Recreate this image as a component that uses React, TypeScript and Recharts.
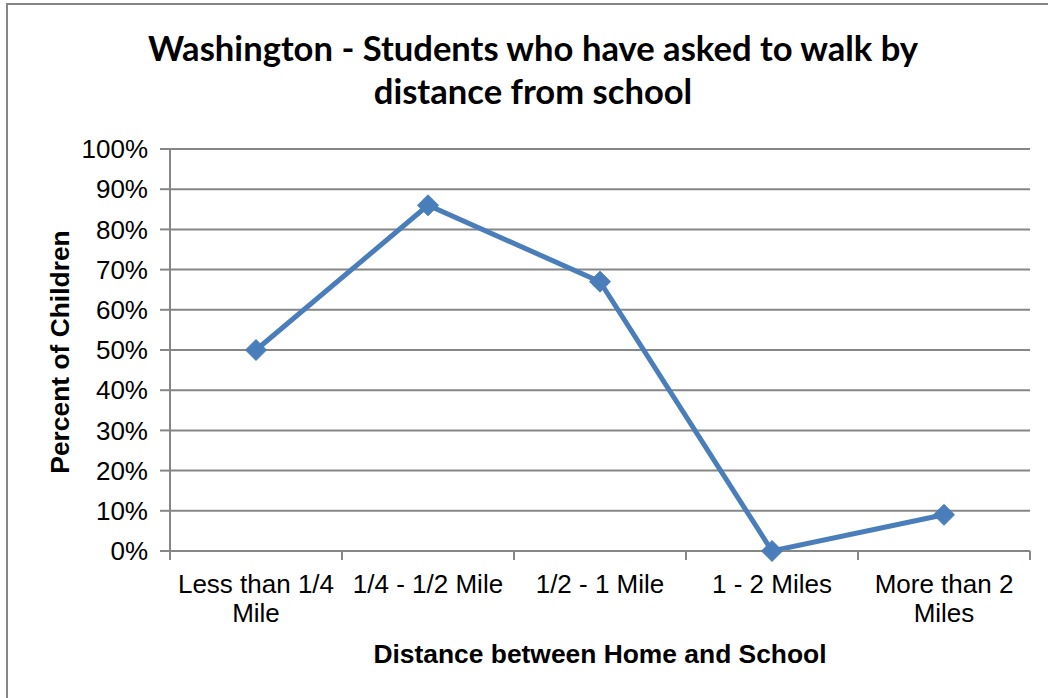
import React from 'react';
import { LineChart, Line, XAxis, YAxis, CartesianGrid } from 'recharts';

// Data
const categories = ['Less than 1/4 Mile', '1/4 - 1/2 Mile', '1/2 - 1 Mile', '1 - 2 Miles', 'More than 2 Miles'];
const percentAsked = [0.5, 0.86, 0.67, 0, 0.09];
const yTicks = [0, 0.1, 0.2, 0.3, 0.4, 0.5, 0.6, 0.7, 0.8, 0.9, 1];

const data = categories.map((name, i) => ({ name, value: percentAsked[i] }));

const W = 1048;
const H = 698;
const PLOT_LEFT = 170;
const PLOT_RIGHT = 18;
const PLOT_TOP = 149;
const PLOT_BOTTOM = 147;
const Y_AXIS_W = 100;
const X_AXIS_H = 100;
const BAND = (W - PLOT_LEFT - PLOT_RIGHT) / categories.length;

const GRID = '#868686';
const BLUE = '#4a7ebb';
const FONT = '"Liberation Sans", Arial, sans-serif';

// word wrap a label to the band width, measured with a canvas
let ctx: CanvasRenderingContext2D | null = null;
const wrap = (label: string, maxWidth: number): string[] => {
  if (!ctx) {
    ctx = document.createElement('canvas').getContext('2d');
    if (ctx) ctx.font = `26px ${FONT}`;
  }
  const words = label.split(' ');
  const lines: string[] = [];
  let cur = '';
  words.forEach((w) => {
    const test = cur ? `${cur} ${w}` : w;
    const width = ctx ? ctx.measureText(test).width : test.length * 13;
    if (width > maxWidth && cur) {
      lines.push(cur);
      cur = w;
    } else {
      cur = test;
    }
  });
  if (cur) lines.push(cur);
  return lines;
};

const XTick = (props: any) => {
  const { x, y, payload, index } = props;
  const half = BAND / 2;
  const lines = wrap(String(payload.value), 166);
  return (
    <g>
      <line x1={x - half} x2={x - half} y1={y} y2={y + 9} stroke={GRID} strokeWidth={2} />
      {index === categories.length - 1 && (
        <line x1={x + half} x2={x + half} y1={y} y2={y + 9} stroke={GRID} strokeWidth={2} />
      )}
      <text x={x} y={y + 42} textAnchor="middle" fontSize={26} fontFamily={FONT} fill="#000">
        {lines.map((l, i) => (
          <tspan key={i} x={x} dy={i === 0 ? 0 : 29}>
            {l}
          </tspan>
        ))}
      </text>
    </g>
  );
};

const Diamond = (props: any) => {
  const { cx, cy } = props;
  if (cx == null || cy == null) return null;
  const r = 10.5;
  return (
    <polygon
      points={`${cx},${cy - r} ${cx + r},${cy} ${cx},${cy + r} ${cx - r},${cy}`}
      fill={BLUE}
      stroke={BLUE}
      strokeWidth={1}
    />
  );
};

export default function App() {
  return (
    <div style={{ position: 'absolute', left: 0, top: 0, width: W, height: H, overflow: 'hidden', background: '#fff' }}>
      <div
        style={{
          position: 'absolute',
          left: 6,
          top: 3,
          width: W + 50,
          height: H + 50,
          border: `2px solid ${GRID}`,
        }}
      />
      <div
        style={{
          position: 'absolute',
          left: 0,
          top: 26,
          width: 1066,
          textAlign: 'center',
          fontFamily: 'Lato, "Open Sans", sans-serif',
          fontWeight: 700,
          fontSize: 34.6,
          lineHeight: '43px',
          color: '#000',
        }}
      >
        Washington - Students who have asked to walk by
        <br />
        distance from school
      </div>
      <div
        style={{
          position: 'absolute',
          left: 60,
          top: 352,
          transform: 'translate(-50%, -50%) rotate(-90deg)',
          whiteSpace: 'nowrap',
          fontFamily: FONT,
          fontWeight: 700,
          fontSize: 26.4,
          lineHeight: '30px',
          color: '#000',
        }}
      >
        Percent of Children
      </div>
      <div
        style={{
          position: 'absolute',
          left: 0,
          top: 639,
          width: 1200,
          textAlign: 'center',
          fontFamily: FONT,
          fontWeight: 700,
          fontSize: 26.4,
          lineHeight: '30px',
          color: '#000',
        }}
      >
        Distance between Home and School
      </div>
      <div style={{ position: 'absolute', left: 0, top: 0 }}>
        <LineChart
          width={W}
          height={H}
          data={data}
          margin={{
            top: PLOT_TOP,
            right: PLOT_RIGHT,
            bottom: PLOT_BOTTOM - X_AXIS_H,
            left: PLOT_LEFT - Y_AXIS_W,
          }}
        >
          <CartesianGrid vertical={false} stroke={GRID} strokeWidth={2} />
          <XAxis
            dataKey="name"
            scale="band"
            height={X_AXIS_H}
            interval={0}
            tickLine={false}
            tickSize={0}
            tickMargin={0}
            axisLine={{ stroke: GRID, strokeWidth: 2 }}
            tick={<XTick />}
          />
          <YAxis
            width={Y_AXIS_W}
            domain={[0, 1]}
            ticks={yTicks}
            interval={0}
            tickFormatter={(v: number) => `${Math.round(v * 100)}%`}
            tickSize={10}
            tickMargin={12}
            tickLine={{ stroke: GRID, strokeWidth: 2 }}
            axisLine={{ stroke: GRID, strokeWidth: 2 }}
            tick={{ fill: '#000', fontSize: 26, fontFamily: FONT }}
          />
          <Line
            type="linear"
            dataKey="value"
            stroke={BLUE}
            strokeWidth={5}
            dot={<Diamond />}
            activeDot={false}
            isAnimationActive={false}
          />
        </LineChart>
      </div>
    </div>
  );
}
